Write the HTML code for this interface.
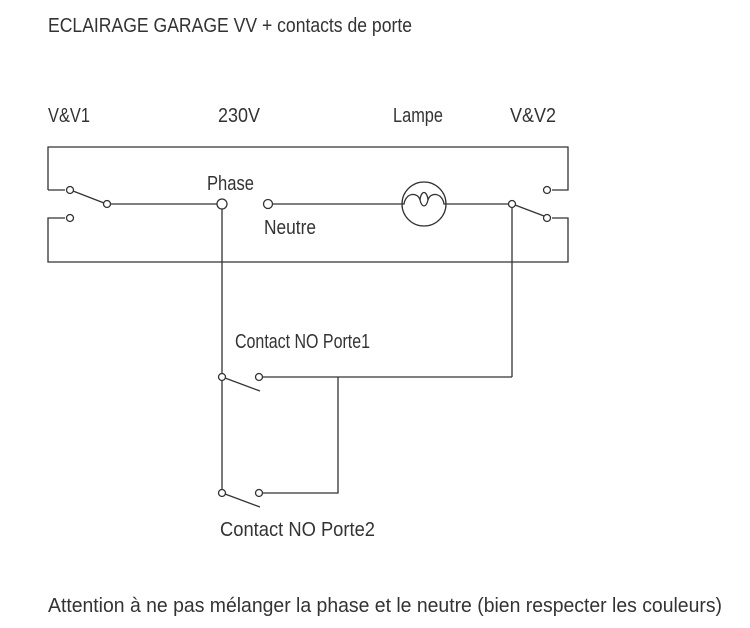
<!DOCTYPE html>
<html><head><style>
html,body{margin:0;padding:0;background:#fff;}
svg{display:block;}
text{font-family:"Liberation Sans",sans-serif;font-size:20px;fill:#333;}
</style></head><body>
<svg width="750" height="628" viewBox="0 0 750 628" xmlns="http://www.w3.org/2000/svg">
<g fill="none" stroke="#333" stroke-width="1.3">
<polyline points="48,190 48,147 568,147 568,190 552,190"/>
<polyline points="65,190 48,190"/>
<polyline points="65,218 48,218 48,262 568,262 568,218 552,218"/>
<circle cx="70" cy="190" r="3.5" fill="#fff"/>
<circle cx="70" cy="218" r="3.5" fill="#fff"/>
<line x1="73" y1="191" x2="104" y2="203"/>
<circle cx="107" cy="204" r="3.5" fill="#fff"/>
<line x1="110.5" y1="204" x2="217" y2="204"/>
<circle cx="222" cy="204" r="5" fill="#fff"/>
<circle cx="268" cy="204" r="4.5" fill="#fff"/>
<line x1="272.5" y1="204" x2="402" y2="204"/>
<circle cx="424" cy="204" r="22" fill="#fff"/>
<path d="M402,204 L404,204 C406,192 418,192 420,200 C422,208 426,208 428,200 C430,192 442,192 444,204 L446,204"/>
<path d="M420,200 C421,190 427,190 428,200"/>
<line x1="446" y1="204" x2="508.5" y2="204"/>
<circle cx="512" cy="204" r="3.5" fill="#fff"/>
<line x1="515" y1="205" x2="544" y2="216"/>
<circle cx="547" cy="190" r="3.5" fill="#fff"/>
<circle cx="547" cy="218" r="3.5" fill="#fff"/>
<line x1="222" y1="209" x2="222" y2="489.5"/>
<line x1="512" y1="207.5" x2="512" y2="377"/>
<circle cx="222" cy="377" r="3.5" fill="#fff"/>
<line x1="225" y1="378" x2="260" y2="391"/>
<circle cx="259" cy="377" r="3.5" fill="#fff"/>
<line x1="262.5" y1="377" x2="512" y2="377"/>
<polyline points="338,377 338,493 262.5,493"/>
<circle cx="222" cy="493" r="3.5" fill="#fff"/>
<line x1="225" y1="494" x2="260" y2="507"/>
<circle cx="259" cy="493" r="3.5" fill="#fff"/>
</g>
<text x="48" y="32" textLength="364" lengthAdjust="spacingAndGlyphs">ECLAIRAGE GARAGE VV + contacts de porte</text>
<text x="48" y="122" textLength="42" lengthAdjust="spacingAndGlyphs">V&amp;V1</text>
<text x="218" y="122" textLength="42" lengthAdjust="spacingAndGlyphs">230V</text>
<text x="393" y="122" textLength="50" lengthAdjust="spacingAndGlyphs">Lampe</text>
<text x="510" y="122" textLength="46" lengthAdjust="spacingAndGlyphs">V&amp;V2</text>
<text x="207" y="190" textLength="47" lengthAdjust="spacingAndGlyphs">Phase</text>
<text x="264" y="234" textLength="52" lengthAdjust="spacingAndGlyphs">Neutre</text>
<text x="235" y="348" textLength="135" lengthAdjust="spacingAndGlyphs">Contact NO Porte1</text>
<text x="220" y="536" textLength="155" lengthAdjust="spacingAndGlyphs">Contact NO Porte2</text>
<text x="48" y="612" textLength="674" lengthAdjust="spacingAndGlyphs">Attention à ne pas mélanger la phase et le neutre (bien respecter les couleurs)</text>
</svg>
</body></html>
